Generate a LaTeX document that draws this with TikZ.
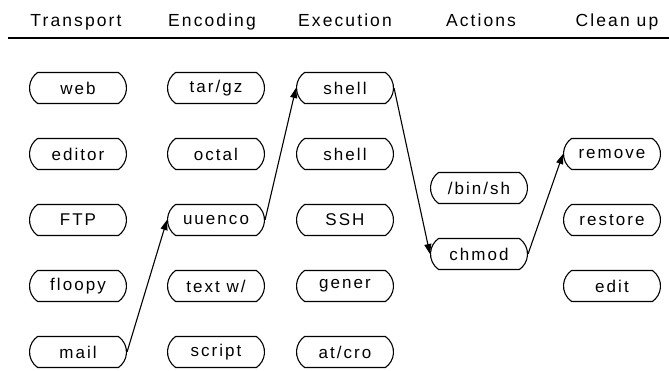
\documentclass[tikz,border=0pt]{standalone}
\usepackage{fontspec}
\setmainfont[LetterSpace=12]{Liberation Sans}
\usetikzlibrary{shapes.misc,arrows.meta}
\begin{document}
\begin{tikzpicture}[x=1pt,y=-1pt,
  box/.style={draw,line width=1.1pt,rounded rectangle,rounded rectangle arc length=110,
    minimum width=97pt,minimum height=31pt,inner sep=0pt,font=\fontsize{17}{20}\selectfont},
  head/.style={font=\fontsize{17.5}{20}\selectfont,anchor=base},
  link/.style={line width=1.1pt,-{Triangle[length=10pt,width=7pt]}}]
\useasboundingbox (0,0) rectangle (669,371);
\fill[white] (0,0) rectangle (669,371);
% headers
\node[head] (h1) at (76,27) {Transport};
\node[head] (h2) at (212,27) {Encoding};
\node[head] (h3) at (345,27) {Execution};
\node[head] (h4) at (481,27) {Actions};
\node[head] (h5) at (617,27) {Clean up};
\coordinate (l1) at (8,38);
\coordinate (l2) at (669,38);
\draw[line width=1.5pt] (l1) -- (l2);
% Transport
\node[box] (web) at (78,88) {web};
\node[box] (editor) at (78,154) {editor};
\node[box] (ftp) at (78,220) {FTP};
\node[box] (floopy) at (78,286) {floopy};
\node[box] (mail) at (78,352) {mail};
% Encoding
\node[box] (tar) at (216,88) {tar/gz};
\node[box] (octal) at (216,154) {octal};
\node[box] (uuenco) at (216,220) {uuenco};
\node[box] (text) at (216,286) {text w/};
\node[box] (script) at (216,352) {script};
% Execution
\node[box] (shellA) at (345,88) {shell};
\node[box] (shellB) at (345,154) {shell};
\node[box] (ssh) at (345,220) {SSH};
\node[box] (gener) at (345,286) {gener};
\node[box] (atcro) at (345,352) {at/cro};
% Actions
\node[box] (binsh) at (479,188) {/bin/sh};
\node[box] (chmod) at (479,254) {chmod};
% Clean up
\node[box] (remove) at (612,154) {remove};
\node[box] (restore) at (612,220) {restore};
\node[box] (edit) at (612,286) {edit};
% connectors
\draw[link] (mail.east) -- (uuenco.west);
\draw[link] (uuenco.east) -- (shellA.west);
\draw[link] (shellA.east) -- (chmod.west);
\draw[link] (chmod.east) -- (remove.west);
\end{tikzpicture}
\end{document}
